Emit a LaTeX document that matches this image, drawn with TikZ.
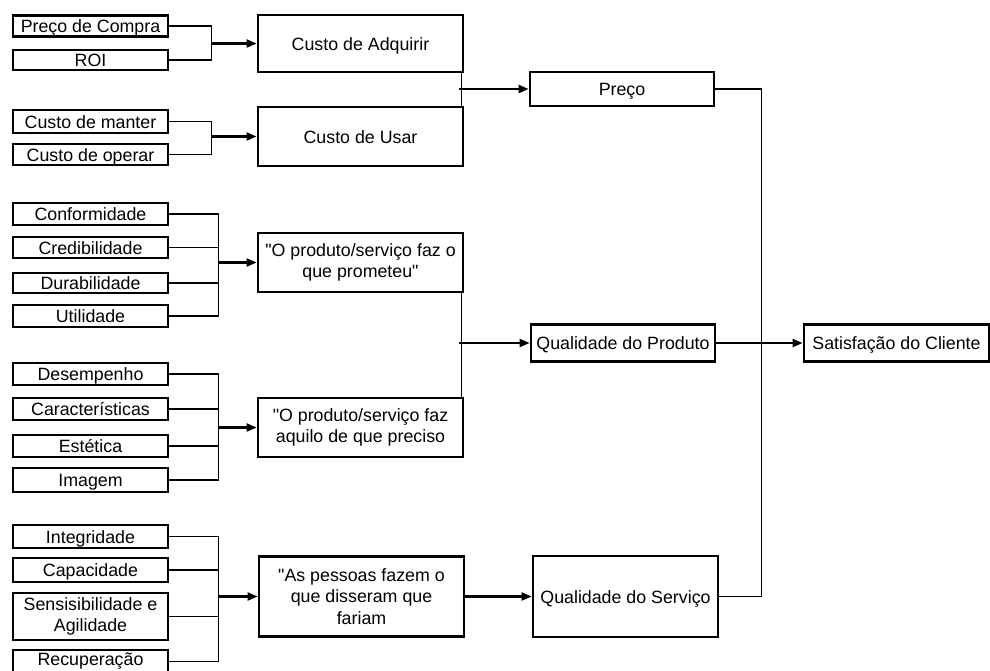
\documentclass[tikz,border=0pt]{standalone}
\usepackage{fontspec}
\setmainfont{Liberation Sans}[Ligatures=TeXOff]
\usetikzlibrary{arrows.meta}
\begin{document}
\begin{tikzpicture}[x=1pt,y=-1pt,
  box/.style={draw,line width=2.8pt,rectangle,inner sep=0pt,
              font=\fontsize{17.8}{21.5}\selectfont,text height=13.5pt,text depth=0.5pt},
  multi/.style={align=center,text height=,text depth=},
  leaf/.style={box,minimum width=155pt},
  mid/.style={box,minimum width=205pt},
  rbox/.style={box,minimum width=185pt},
  link/.style={line width=1.2pt},
  feed/.style={line width=2.2pt,-{Triangle[length=10pt,width=8pt]}}
]
\useasboundingbox (0,0) rectangle (990,670);

% left column: contributing factors
\node[leaf,minimum height=21pt] (pc)    at (90.5,26)    {Preço de Compra};
\node[leaf,minimum height=20pt] (roi)   at (90.5,60)    {ROI};
\node[leaf,minimum height=23pt] (cm)    at (90.5,121.5) {Custo de manter};
\node[leaf,minimum height=21pt] (co)    at (90.5,154.5) {Custo de operar};
\node[leaf,minimum height=22pt] (conf)  at (90.5,214)   {Conformidade};
\node[leaf,minimum height=21pt] (cred)  at (90.5,247.5) {Credibilidade};
\node[leaf,minimum height=20pt] (dura)  at (90.5,283)   {Durabilidade};
\node[leaf,minimum height=22pt] (util)  at (90.5,316)   {Utilidade};
\node[leaf,minimum height=22pt] (desem) at (90.5,374)   {Desempenho};
\node[leaf,minimum height=22pt] (carac) at (90.5,409)   {Características};
\node[leaf,minimum height=22pt] (estet) at (90.5,446)   {Estética};
\node[leaf,minimum height=24pt] (imag)  at (90.5,480)   {Imagem};
\node[leaf,minimum height=23pt] (integ) at (90.5,536.5) {Integridade};
\node[leaf,minimum height=24pt] (capac) at (90.5,570)   {Capacidade};
\node[leaf,multi,minimum height=47pt] (sensi) at (90.5,616.5) {Sensisibilidade e\\Agilidade};
\node[leaf,minimum height=23pt,text height=12.5pt,text depth=4.5pt] (recup) at (90.5,661.5) {Recuperação};

% middle column
\node[mid,minimum height=57pt] (adq)     at (360.5,43.5)  {Custo de Adquirir};
\node[mid,minimum height=59pt] (usar)    at (360.5,136.5) {Custo de Usar};
\node[mid,multi,minimum height=59pt] (prom)    at (360.5,262.5) {"O produto/serviço faz o\\que prometeu"};
\node[mid,multi,minimum height=59pt] (aquilo)  at (360.5,427.5) {"O produto/serviço faz\\aquilo de que preciso};
\node[mid,multi,minimum height=80pt] (pessoas) at (361.5,596.5) {"As pessoas fazem o\\que disseram que\\fariam};

% right columns
\node[rbox,minimum width=184pt,minimum height=34pt] (preco) at (622,89)      {Preço};
\node[rbox,minimum width=184pt,minimum height=37pt] (qprod) at (623,343)     {Qualidade do Produto};
\node[rbox,minimum height=81pt]                     (qserv) at (625.5,596.5) {Qualidade do Serviço};
\node[rbox,minimum height=37pt]                     (sat)   at (896.5,343)   {Satisfação do Cliente};

% brackets from the factors to the middle column
\coordinate (j1) at ([xshift=-45pt]adq.west);
\draw[link] (pc.east) -| (j1) |- (roi.east);
\draw[feed] (j1) -- (adq.west);

\coordinate (j2) at ([xshift=-45pt]usar.west);
\draw[link] (cm.east) -| (j2) |- (co.east);
\draw[feed] (j2) -- (usar.west);

\coordinate (j3) at ([xshift=-38pt]prom.west);
\draw[link] (conf.east) -| (j3) |- (util.east);
\draw[link] (cred.east) -- (cred.east -| j3);
\draw[link] (dura.east) -- (dura.east -| j3);
\draw[feed] (j3) -- (prom.west);

\coordinate (j4) at ([xshift=-38pt]aquilo.west);
\draw[link] (desem.east) -| (j4) |- (imag.east);
\draw[link] (carac.east) -- (carac.east -| j4);
\draw[link] (estet.east) -- (estet.east -| j4);
\draw[feed] (j4) -- (aquilo.west);

\coordinate (j5) at ([xshift=-39pt]pessoas.west);
\draw[link] (integ.east) -| (j5) |- (recup.east);
\draw[link] (capac.east) -- (capac.east -| j5);
\draw[link] (sensi.east) -- (sensi.east -| j5);
\draw[feed] (j5) -- (pessoas.west);

% middle column to the three dimensions
\draw[link] ([xshift=-3pt]adq.south east) -- ([xshift=-3pt]usar.north east);
\coordinate (k1) at ([xshift=-70pt]preco.west);
\draw[feed] (k1) -- (preco.west);

\draw[link] ([xshift=-3pt]prom.south east) -- ([xshift=-3pt]aquilo.north east);
\coordinate (k2) at ([xshift=-71pt]qprod.west);
\draw[feed] (k2) -- (qprod.west);

\draw[feed] (pessoas.east) -- (qserv.west);

% dimensions to customer satisfaction
\coordinate (k3) at ([xshift=42pt]qserv.east);
\draw[link] (preco.east) -| (k3) -- (qserv.east);
\draw[feed] (qprod.east) -- (sat.west);
\end{tikzpicture}
\end{document}
